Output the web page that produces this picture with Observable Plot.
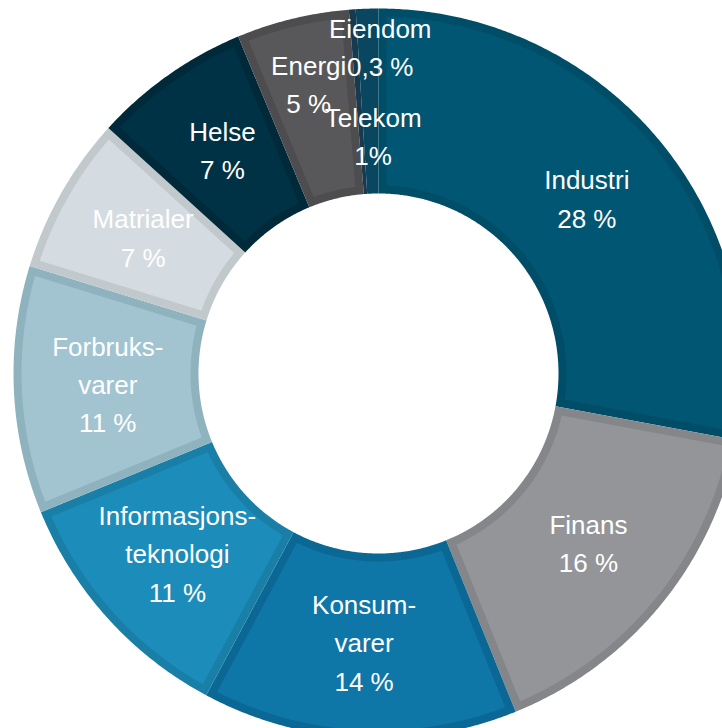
<!DOCTYPE html>
<html>
<head>
<meta charset="utf-8">
<script src="https://cdn.jsdelivr.net/npm/d3@7"></script>
<script src="https://cdn.jsdelivr.net/npm/@observablehq/plot@0.6"></script>
<style>
  html, body { margin: 0; padding: 0; background: #fff; }
  #chart svg { display: block; }
</style>
</head>
<body>
<div id="chart"></div>
<script>
// ---- data ----
const categories = ["Industri", "Finans", "Konsumvarer", "Informasjonsteknologi", "Forbruksvarer",
                    "Matrialer", "Helse", "Energi", "Eiendom", "Telekom"];
const values = [28, 16, 14, 11, 11, 7, 7, 5, 0.3, 1];
const displayNames = ["Industri", "Finans", "Konsum-\nvarer", "Informasjons-\nteknologi", "Forbruks-\nvarer",
                      "Matrialer", "Helse", "Energi", "Eiendom", "Telekom"];
const valueLabels = ["28 %", "16 %", "14 %", "11 %", "11 %", "7 %", "7 %", "5 %", "0,3 %", "1%"];

// ---- styles ----
const fillColors   = ["#005673", "#939598", "#0f76a8", "#1c8dba", "#a2c4d1", "#d4dce2", "#003246", "#58585b", "#1d4257", "#0c5070"];
const borderColors = ["#004d67", "#85868a", "#0b6895", "#197fa7", "#8fb2bf", "#c1c9cd", "#00293a", "#4d4d50", "#183a4e", "#09465f"];

// ---- layout ----
const W = 722, H = 728;
const CX = 378, CY = 373;          // centre of the ring in pixels
const R_OUT = 365, R_IN = 180, BORDER = 8;
const LABEL_R = 271;
// hand-placed labels of the thin slices at the top (radius in px, angle in degrees from 12 o'clock)
const labelRadiusOverride = {Energi: 296, Eiendom: 325, Telekom: 236};
const labelAngleOverride = {Eiendom: 0.3, Telekom: -1.3};

const total = d3.sum(values);
const rad = d => d * Math.PI / 180;

// build slices (clockwise from 12 o'clock)
let cum = 0;
const slices = categories.map((c, i) => {
  const a0 = cum / total * 2 * Math.PI;
  cum += values[i];
  const a1 = cum / total * 2 * Math.PI;
  return {key: c, i, a0, a1};
});

function ring(a0, a1, rIn, rOut, inset) {
  let o0 = a0, o1 = a1, i0 = a0, i1 = a1, ro = rOut, ri = rIn;
  if (inset) {
    ro = rOut - inset; ri = rIn + inset;
    const dO = Math.asin(inset / ro), dI = Math.asin(inset / ri);
    o0 = a0 + dO; o1 = a1 - dO; i0 = a0 + dI; i1 = a1 - dI;
    if (i1 <= i0 || o1 <= o0) return null;
  }
  const pts = [];
  const nO = Math.max(2, Math.ceil((o1 - o0) / rad(0.4)));
  for (let k = 0; k <= nO; k++) {
    const a = o0 + (o1 - o0) * k / nO;
    pts.push([ro * Math.sin(a), ro * Math.cos(a)]);
  }
  const nI = Math.max(2, Math.ceil((i1 - i0) / rad(0.4)));
  for (let k = nI; k >= 0; k--) {
    const a = i0 + (i1 - i0) * k / nI;
    pts.push([ri * Math.sin(a), ri * Math.cos(a)]);
  }
  return pts;
}

const borderPts = [], fillPts = [];
for (const s of slices) {
  ring(s.a0, s.a1, R_IN, R_OUT, 0).forEach(p => borderPts.push({x: p[0], y: p[1], key: s.key, color: borderColors[s.i]}));
  const inner = ring(s.a0, s.a1, R_IN, R_OUT, BORDER);
  if (inner) inner.forEach(p => fillPts.push({x: p[0], y: p[1], key: s.key, color: fillColors[s.i]}));
}

const labels = slices.map(s => {
  const a = s.key in labelAngleOverride ? rad(labelAngleOverride[s.key]) : (s.a0 + s.a1) / 2;
  const r = labelRadiusOverride[s.key] ?? LABEL_R;
  return {x: r * Math.sin(a), y: r * Math.cos(a), text: displayNames[s.i] + "\n" + valueLabels[s.i]};
});

const chart = Plot.plot({
  width: W,
  height: H,
  margin: 0,
  x: {domain: [-CX, W - CX], range: [0, W], axis: null},
  y: {domain: [CY - H, CY], range: [H, 0], axis: null},
  color: {type: "identity"},
  style: {background: "#fff"},
  marks: [
    Plot.line(borderPts, {x: "x", y: "y", z: "key", fill: "color", stroke: "none", curve: "linear"}),
    Plot.line(fillPts, {x: "x", y: "y", z: "key", fill: "color", stroke: "none", curve: "linear"}),
    Plot.text(labels, {
      x: "x", y: "y", text: "text",
      dy: -4,
      fill: "#ffffff",
      fontSize: 26,
      fontFamily: "'Liberation Sans', Arial, sans-serif",
      lineHeight: 1.47,
      textAnchor: "middle",
      lineAnchor: "middle"
    })
  ]
});
document.getElementById("chart").appendChild(chart);
</script>
</body>
</html>
